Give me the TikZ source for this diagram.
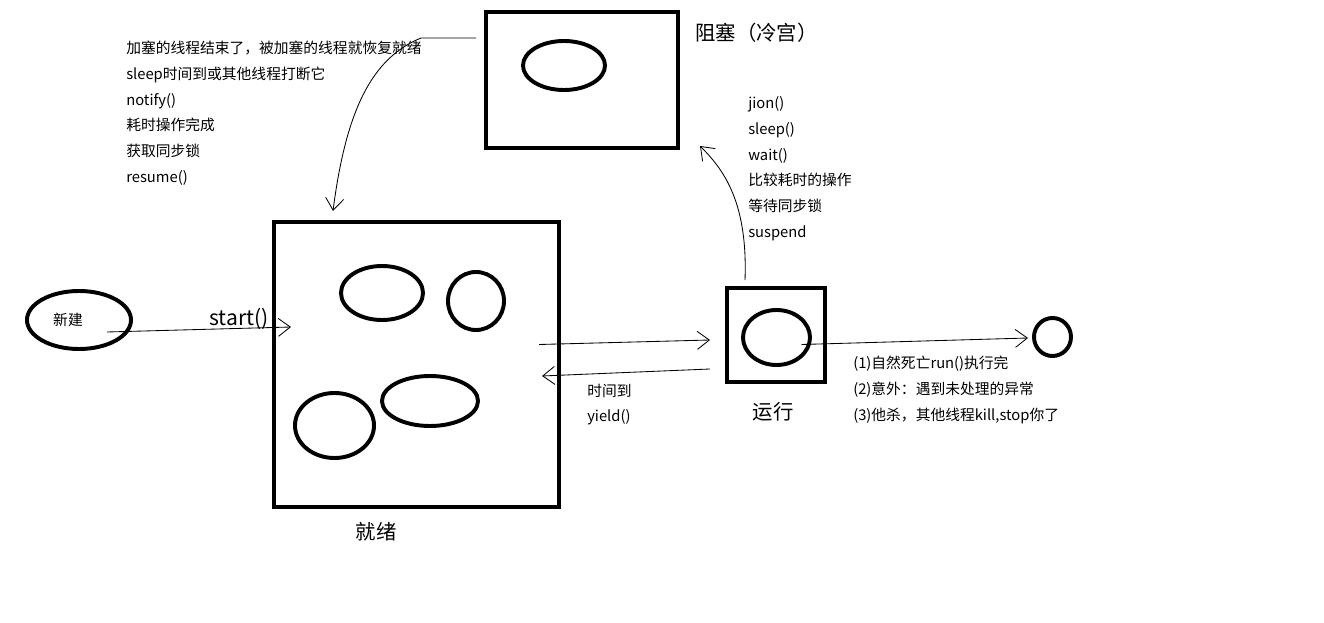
\documentclass[tikz,border=0pt]{standalone}
\usepackage{fontspec}
\setmainfont{Noto Sans CJK SC}
\usetikzlibrary{arrows.meta,calc,positioning,shapes.geometric}
\tikzset{%
	state/.style = {draw, rectangle, line width=2.8pt, inner sep=0pt},
	blob/.style  = {draw, ellipse, line width=2.8pt, inner sep=0pt},
	note/.style  = {anchor=north west, align=left, inner sep=0pt, font=\fontsize{10.5}{18.4}\selectfont},
	title/.style = {inner sep=0pt, font=\fontsize{14.5}{17}\selectfont},
	arrow/.style = {line width=0.6pt, -{Straight Barb[length=3mm,width=4.5mm]}},
}
\begin{document}
\begin{tikzpicture}[x=0.025cm, y=-0.025cm]
	\useasboundingbox (0,0) rectangle (1324,623);
	% blocked
	\node[state, minimum width=4.8cm, minimum height=3.4cm] (block) at (582,80) {};
	\node[blob, minimum width=2.05cm, minimum height=1.225cm] (blockc) at (564,65.5) {};
	\node[title, anchor=west] (blocklbl) at (695,33) {阻塞（冷宫）};
	% ready
	\node[state, minimum width=7.125cm, minimum height=7.125cm] (ready) at (416.5,364.5) {};
	\node[blob, minimum width=2.05cm, minimum height=1.35cm] (ready1) at (382,293) {};
	\node[blob, minimum width=1.4cm, minimum height=1.45cm] (ready2) at (476,301) {};
	\node[blob, minimum width=1.975cm, minimum height=1.625cm] (ready3) at (334.5,425.5) {};
	\node[blob, minimum width=2.4cm, minimum height=1.25cm] (ready4) at (430,401) {};
	\node[title] (readylbl) at (376,532) {就绪};
	% new
	\node[blob, minimum width=2.6cm, minimum height=1.45cm] (new) at (79,320) {};
	\node[inner sep=0pt, font=\fontsize{10.5}{12}\selectfont] (newlbl) at (68,320) {新建};
	% running
	\node[state, minimum width=2.45cm, minimum height=2.35cm] (run) at (776,335) {};
	\node[blob, minimum width=1.675cm, minimum height=1.375cm] (runc) at (776.5,337.5) {};
	\node[title] (runlbl) at (773,412) {运行};
	% dead
	\node[blob, minimum width=0.925cm, minimum height=0.95cm] (dead) at (1052.5,337) {};

	% transitions
	\draw[arrow] ($(new.center)+(28,12)$) -- ($(ready.west)+(19,-37.5)$);
	\node[inner sep=0pt, font=\fontsize{15}{17}\selectfont] (startlbl) at (239,318.5) {start()};
	\draw[arrow] ($(ready.east)+(-22,-20)$) -- ($(run.west)+(-15,5)$);
	\draw[arrow] ($(run.west)+(-15,34)$) -- ($(ready.east)+(-19,11.5)$);
	\draw[arrow] ($(runc.center)+(25,7)$) -- ($(dead.west)+(-4,1)$);
	\draw[arrow] ($(run.north)+(-31,-6)$) .. controls (748,200) and (722,168) .. ($(block.south east)+(20,-4)$);
	\draw[arrow] ($(block.west)+(-8,-42)$) -- ++(-55,0) .. controls (372,58) and (346,110) .. ($(ready.north)+(-83.5,-9)$);

	% reasons
	\node[note] (wakeup) at (126,40.5) {加塞的线程结束了，被加塞的线程就恢复就绪\\sleep时间到或其他线程打断它\\notify()\\耗时操作完成\\获取同步锁\\resume()};
	\node[note] (wait) at (748,96) {jion()\\sleep()\\wait()\\比较耗时的操作\\等待同步锁\\suspend};
	\node[note] (yield) at (587,383.5) {时间到\\yield()};
	\node[note] (death) at (853,355.5) {(1)自然死亡run()执行完\\(2)意外：遇到未处理的异常\\(3)他杀，其他线程kill,stop你了};
\end{tikzpicture}
\end{document}
